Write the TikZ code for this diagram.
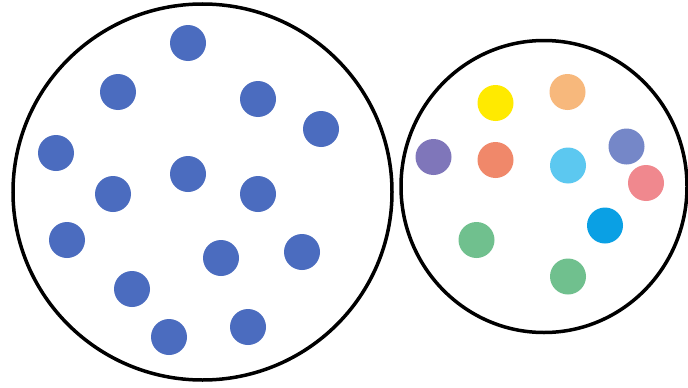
\documentclass[tikz,border=0pt]{standalone}
\definecolor{dotblue}{HTML}{4B6CBF}
\definecolor{cyellow}{HTML}{FFEA00}
\definecolor{corange}{HTML}{F7B87C}
\definecolor{cpurple}{HTML}{7F76BA}
\definecolor{csalmon}{HTML}{F0886A}
\definecolor{clight}{HTML}{5CC8F0}
\definecolor{cslate}{HTML}{7587C8}
\definecolor{cpink}{HTML}{F0888E}
\definecolor{cbright}{HTML}{0AA0E4}
\definecolor{cgreen}{HTML}{70C08E}
\tikzset{
  dot/.style={circle, inner sep=0pt, minimum size=36pt, fill=#1, draw=none},
  ring/.style={draw=black, line width=3.5pt}
}
\begin{document}
\begin{tikzpicture}[x=1pt,y=-1pt]
\useasboundingbox[fill=white] (0,0) rectangle (688,388);
\draw[ring] (202.5,192) circle[x radius=189.5, y radius=188];
\draw[ring] (544,186.5) circle[x radius=143, y radius=146];
% left dots
\node[dot=dotblue] (l1) at (188,43) {};
\node[dot=dotblue] (l2) at (118,92) {};
\node[dot=dotblue] (l3) at (258,99) {};
\node[dot=dotblue] (l4) at (321,129) {};
\node[dot=dotblue] (l5) at (56,153) {};
\node[dot=dotblue] (l6) at (188,174) {};
\node[dot=dotblue] (l7) at (113,194) {};
\node[dot=dotblue] (l8) at (258,194) {};
\node[dot=dotblue] (l9) at (67,240) {};
\node[dot=dotblue] (l10) at (221,258) {};
\node[dot=dotblue] (l11) at (302,252) {};
\node[dot=dotblue] (l12) at (132,289) {};
\node[dot=dotblue] (l13) at (248,327) {};
\node[dot=dotblue] (l14) at (169,337) {};
% right dots
\node[dot=cyellow] (r1) at (495.5,103) {};
\node[dot=corange] (r2) at (567.5,92) {};
\node[dot=cpurple] (r3) at (433.5,157) {};
\node[dot=csalmon] (r4) at (495.5,160) {};
\node[dot=clight] (r5) at (568,165.5) {};
\node[dot=cslate] (r6) at (626.5,146.5) {};
\node[dot=cpink] (r7) at (646,183) {};
\node[dot=cbright] (r8) at (605,225.5) {};
\node[dot=cgreen] (r9) at (476.5,240) {};
\node[dot=cgreen] (r10) at (568,276.5) {};
\end{tikzpicture}
\end{document}
